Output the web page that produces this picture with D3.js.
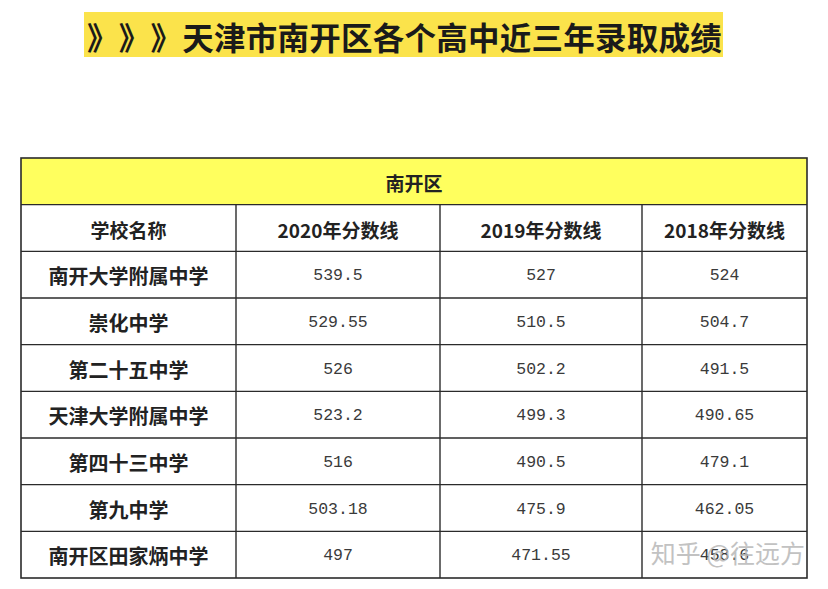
<!DOCTYPE html>
<html><head><meta charset="utf-8">
<script src="https://cdn.jsdelivr.net/npm/d3@7/dist/d3.min.js"></script>
<style>body{margin:0;background:#fff}svg{display:block}text{text-spacing-trim:space-all}</style>
</head><body>
<script>
const titleText = "》》》天津市南开区各个高中近三年录取成绩";
const districtLabel = "南开区";
const columnHeaders = ["学校名称", "2020年分数线", "2019年分数线", "2018年分数线"];
const schools = ["南开大学附属中学", "崇化中学", "第二十五中学", "天津大学附属中学", "第四十三中学", "第九中学", "南开区田家炳中学"];
const scores2020 = [539.5, 529.55, 526, 523.2, 516, 503.18, 497];
const scores2019 = [527, 510.5, 502.2, 499.3, 490.5, 475.9, 471.55];
const scores2018 = [524, 504.7, 491.5, 490.65, 479.1, 462.05, 458.6];
const watermark = "知乎 @往远方";

const W = 828, H = 589;
const svg = d3.select("body").append("svg").attr("width", W).attr("height", H);

// Title (each character on a fixed full-width grid)
const tX0 = 84, tX1 = 723, tY0 = 12, tY1 = 57;
svg.append("rect").attr("x", tX0).attr("y", tY0).attr("width", tX1 - tX0).attr("height", tY1 - tY0).attr("fill", "#fbe34b");
const titleChars = Array.from(titleText);
const tx = d3.scaleBand().domain(d3.range(titleChars.length)).range([87, 722]).padding(0);
svg.append("g").selectAll("text").data(titleChars).join("text")
  .attr("x", (d, i) => tx(i) + tx.bandwidth() / 2).attr("y", (tY0 + tY1) / 2 + 1)
  .attr("text-anchor", "middle").attr("dominant-baseline", "central")
  .attr("font-family", "'Noto Sans CJK SC', sans-serif").attr("font-weight", 700)
  .attr("font-size", 31.5).attr("fill", "#1a1a1a").text(d => d);

// Table geometry
const tblLeft = 21, tblRight = 807, tblTop = 158, tblBottom = 578;
const colWidths = [215, 204, 202, 165];
const colEdges = [tblLeft];
colWidths.forEach((w, i) => colEdges.push(colEdges[i] + w));
colEdges[colEdges.length - 1] = tblRight;

const rowKeys = d3.range(schools.length + 2);
const y = d3.scaleBand().domain(rowKeys).range([tblTop, tblBottom]).padding(0);
const colX = d3.scaleOrdinal().domain(d3.range(4)).range(d3.range(4).map(i => (colEdges[i] + colEdges[i + 1]) / 2));

// District header band
svg.append("rect").attr("x", tblLeft).attr("y", y(0)).attr("width", tblRight - tblLeft).attr("height", y.bandwidth()).attr("fill", "#ffff5e");
svg.append("text").attr("x", (tblLeft + tblRight) / 2).attr("y", y(0) + y.bandwidth() / 2 + 1)
  .attr("text-anchor", "middle").attr("dominant-baseline", "central")
  .attr("font-family", "'Noto Sans CJK SC', sans-serif").attr("font-weight", 700)
  .attr("font-size", 19).attr("fill", "#222").text(districtLabel);

// Column headers
svg.append("g").selectAll("text").data(columnHeaders).join("text")
  .attr("x", (d, i) => colX(i)).attr("y", y(1) + y.bandwidth() / 2 + 1)
  .attr("text-anchor", "middle").attr("dominant-baseline", "central")
  .attr("font-family", "'Noto Sans CJK SC', sans-serif").attr("font-weight", 700)
  .attr("font-size", 19).attr("fill", "#222").text(d => d);

// Body rows
const rows = schools.map((s, i) => ({ school: s, vals: [scores2020[i], scores2019[i], scores2018[i]], r: i + 2 }));
const gRows = svg.append("g").selectAll("g").data(rows).join("g");
gRows.append("text")
  .attr("x", colX(0)).attr("y", d => y(d.r) + y.bandwidth() / 2 + 1)
  .attr("text-anchor", "middle").attr("dominant-baseline", "central")
  .attr("font-family", "'Noto Sans CJK SC', sans-serif").attr("font-weight", 700)
  .attr("font-size", 20).attr("fill", "#222").text(d => d.school);
gRows.selectAll("text.v").data(d => d.vals.map((v, j) => ({ v, j, r: d.r }))).join("text")
  .attr("class", "v")
  .attr("x", d => colX(d.j + 1)).attr("y", d => y(d.r) + y.bandwidth() / 2 + 1)
  .attr("text-anchor", "middle").attr("dominant-baseline", "central")
  .attr("font-family", "'Liberation Mono', 'DejaVu Sans Mono', monospace")
  .attr("font-size", 16.5).attr("fill", "#3a3a3a").text(d => String(d.v));

// Grid lines
const lineColor = "#2b2b2b";
const gl = svg.append("g").attr("stroke", lineColor).attr("stroke-width", 1.4);
rowKeys.slice(1).forEach(k => {
  gl.append("line").attr("x1", tblLeft).attr("x2", tblRight).attr("y1", y(k)).attr("y2", y(k));
});
colEdges.slice(1, -1).forEach(x => {
  gl.append("line").attr("x1", x).attr("x2", x).attr("y1", y(1)).attr("y2", tblBottom);
});
svg.append("rect").attr("x", tblLeft).attr("y", tblTop).attr("width", tblRight - tblLeft).attr("height", tblBottom - tblTop)
  .attr("fill", "none").attr("stroke", lineColor).attr("stroke-width", 1.6);

// Watermark
svg.append("text").attr("x", 805).attr("y", 552)
  .attr("text-anchor", "end").attr("dominant-baseline", "central")
  .attr("font-family", "'Noto Sans CJK SC', sans-serif").attr("font-size", 25)
  .attr("fill", "#b8b8b8").attr("opacity", 0.85).text(watermark);
</script>
</body></html>
